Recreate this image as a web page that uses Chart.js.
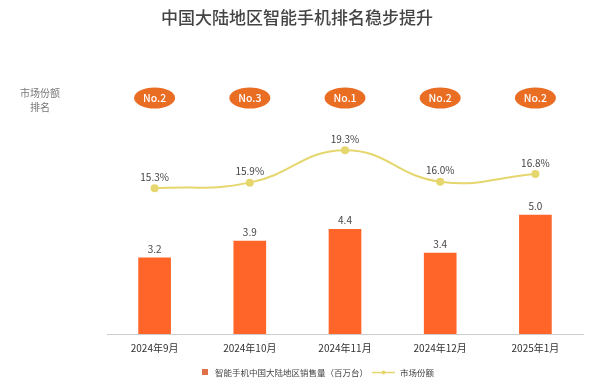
<!DOCTYPE html>
<html><head><meta charset="utf-8">
<script src="https://cdn.jsdelivr.net/npm/chart.js@4/dist/chart.umd.min.js"></script>
<style>html,body{margin:0;padding:0;background:#fff;}#wrap{width:600px;height:391px;position:relative;}</style>
</head><body><div id="wrap"><canvas id="c" width="600" height="391"></canvas></div>
<script>
const categories = ['2024年9月','2024年10月','2024年11月','2024年12月','2025年1月'];
const salesValues = [3.2, 3.9, 4.4, 3.4, 5.0];
const shareValues = [15.3, 15.9, 19.3, 16.0, 16.8];
const rankLabels = ['No.2','No.3','No.1','No.2','No.2'];
const titleText = '中国大陆地区智能手机排名稳步提升';
const rankTitle = ['市场份额','排名'];
const salesName = '智能手机中国大陆地区销售量（百万台）';
const shareName = '市场份额';

const FONT = '"Noto Sans CJK SC", "Noto Sans", sans-serif';
const BAR = '#ff6428';
const LINE = '#e6d66e';

const overlay = {
  id:'overlay',
  afterDatasetsDraw(chart){
    const ctx = chart.ctx, x = chart.scales.x;
    ctx.save();
    ctx.fillStyle = '#444'; ctx.font = '500 17px ' + FONT;
    ctx.textAlign = 'center'; ctx.textBaseline = 'middle';
    ctx.fillText(titleText, 297, 18);
    ctx.fillStyle = '#777'; ctx.font = '10px ' + FONT;
    ctx.fillText(rankTitle[0], 40, 93);
    ctx.fillText(rankTitle[1], 40, 107);
    rankLabels.forEach((r,i)=>{
      const cx = x.getPixelForValue(i);
      ctx.fillStyle = '#ea6d24';
      ctx.beginPath(); ctx.ellipse(cx, 98, 20.5, 10.5, 0, 0, Math.PI*2); ctx.fill();
      ctx.fillStyle = '#fff'; ctx.font = '500 10.5px ' + FONT;
      ctx.fillText(r, cx, 98.5);
    });
    ctx.fillStyle = '#444'; ctx.font = '10px ' + FONT; ctx.textBaseline='bottom';
    chart.getDatasetMeta(0).data.forEach((el,i)=>{
      ctx.fillText(salesValues[i].toFixed(1), el.x, el.y - 4);
    });
    chart.getDatasetMeta(1).data.forEach((el,i)=>{
      ctx.fillText(shareValues[i].toFixed(1)+'%', el.x, el.y - 6);
    });
    ctx.fillStyle = '#e07048'; ctx.fillRect(202, 369, 6, 6);
    ctx.fillStyle = '#444'; ctx.font = '8.5px ' + FONT; ctx.textAlign='left'; ctx.textBaseline='middle';
    ctx.fillText(salesName, 215, 372.5);
    ctx.strokeStyle = LINE; ctx.lineWidth = 1.5;
    ctx.beginPath(); ctx.moveTo(372, 372.5); ctx.lineTo(395, 372.5); ctx.stroke();
    ctx.fillStyle = LINE; ctx.beginPath(); ctx.arc(383.5, 372.5, 2, 0, Math.PI*2); ctx.fill();
    ctx.fillStyle = '#444'; ctx.fillText(shareName, 400, 372.5);
    ctx.restore();
  }
};

new Chart(document.getElementById('c'), {
  data:{
    labels: categories,
    datasets:[
      {type:'bar', label:salesName, data:salesValues, yAxisID:'y', backgroundColor:BAR,
       barThickness:32, order:1},
      {type:'line', label:shareName, data:shareValues, yAxisID:'y2', borderColor:LINE, backgroundColor:LINE,
       borderWidth:2, pointRadius:3, pointBackgroundColor:LINE, tension:0.45, order:0}
    ]
  },
  options:{
    responsive:false, animation:false,
    layout:{padding:{left:107, right:17, top:96, bottom:29}},
    plugins:{legend:{display:false}, tooltip:{enabled:false}},
    scales:{
      x:{grid:{display:false, drawTicks:false}, border:{color:'#ccc'},
         ticks:{color:'#333', font:{family:FONT, size:10}, padding:8, maxRotation:0}},
      y:{min:0, max:10, display:false},
      y2:{min:0, max:25, display:false, position:'right'}
    }
  },
  plugins:[overlay]
});
</script></body></html>
